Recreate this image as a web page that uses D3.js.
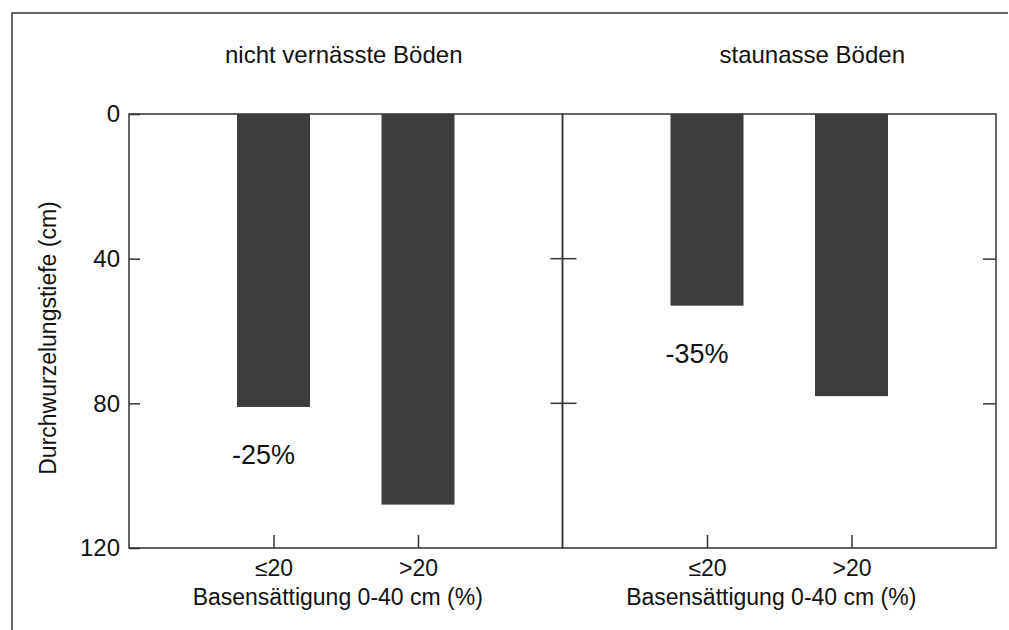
<!DOCTYPE html>
<html>
<head>
<meta charset="utf-8">
<script src="https://cdn.jsdelivr.net/npm/d3@7"></script>
<style>
  body { margin: 0; background: #fff; }
  svg { display: block; font-family: Arial, "Liberation Sans", sans-serif; }
  .axis path { display: none; }
  .axis line { stroke: #333; stroke-width: 1.5; }
  .axis text { fill: #111; font-size: 24px; font-family: Arial, "Liberation Sans", sans-serif; }
  .axis.x text { font-size: 23px; }
</style>
</head>
<body>
<div id="chart"></div>
<script>
let width = 1009,
    height = 630,
    margin = ({ top: 114, right: 13, bottom: 82, left: 129 });

// data
const panels = ["nicht vernässte Böden", "staunasse Böden"];
const groups = ["≤20", ">20"];
const depth = [[81, 108], [53, 78]];        // Durchwurzelungstiefe (cm)
const changeLabels = ["-25%", "-35%"];
const yTicks = [0, 40, 80, 120];
const xTitle = "Basensättigung 0-40 cm (%)";
const yTitle = "Durchwurzelungstiefe (cm)";

const svg = d3.select("#chart")
  .append("svg")
  .attr("width", width)
  .attr("height", height);

let x0 = d3.scaleBand()
  .domain(panels)
  .range([margin.left, width - margin.right]);

let x1 = d3.scalePoint()
  .domain(groups)
  .range([0, x0.bandwidth()])
  .padding(1);

let y = d3.scaleLinear()
  .domain([0, 120])
  .range([margin.top, height - margin.bottom]);

let barW = 73;
let ink = "#333";

// outer frame (top + left only, right/bottom cut off in the scan)
svg.append("path")
  .attr("d", `M12,${height} V13 H${width - 1}`)
  .attr("fill", "none")
  .attr("stroke", ink)
  .attr("stroke-width", 1.5);

panels.forEach((p, i) => {
  let g = svg.append("g")
    .attr("transform", `translate(${x0(p)},0)`);

  // bars
  g.selectAll("rect")
    .data(depth[i])
    .join("rect")
    .attr("x", (d, j) => x1(groups[j]) - barW / 2)
    .attr("y", y(0))
    .attr("width", barW)
    .attr("height", d => y(d) - y(0))
    .attr("fill", "#3d3d3d");

  // panel title
  g.append("text")
    .attr("x", i === 0 ? x0.bandwidth() / 2 - 2 : x0.bandwidth() / 2 + 33)
    .attr("y", 63)
    .attr("text-anchor", "middle")
    .attr("font-size", 24)
    .attr("fill", "#111")
    .text(p);

  // change label below the shallow bar
  g.append("text")
    .attr("x", x1(groups[0]) - 10)
    .attr("y", y(depth[i][0]) + 57)
    .attr("text-anchor", "middle")
    .attr("font-size", 27)
    .attr("fill", "#111")
    .text(changeLabels[i]);

  // bottom axis, ticks pointing up
  g.append("g")
    .attr("class", "axis x")
    .attr("transform", `translate(0,${y(120)})`)
    .call(d3.axisBottom(x1)
      .tickSizeInner(-13)
      .tickSizeOuter(0)
      .tickPadding(12));

  g.append("text")
    .attr("x", x0.bandwidth() / 2 - 8)
    .attr("y", 605)
    .attr("text-anchor", "middle")
    .attr("font-size", 23)
    .attr("fill", "#111")
    .text(xTitle);

  // panel box
  g.append("rect")
    .attr("x", 0)
    .attr("y", y(0))
    .attr("width", x0.bandwidth())
    .attr("height", y(120) - y(0))
    .attr("fill", "none")
    .attr("stroke", ink)
    .attr("stroke-width", 1.5);
});

// left y axis, ticks inward
svg.append("g")
  .attr("class", "axis")
  .attr("transform", `translate(${margin.left},0)`)
  .call(d3.axisLeft(y)
    .tickValues(yTicks)
    .tickSizeInner(-11)
    .tickSizeOuter(0)
    .tickPadding(9));

// ticks on the divider (both sides)
let divX = x0(panels[1]);
svg.append("g")
  .selectAll("line")
  .data(yTicks.slice(1, 3))
  .join("line")
  .attr("x1", divX - 12)
  .attr("x2", divX + 14)
  .attr("y1", d => y(d))
  .attr("y2", d => y(d))
  .attr("stroke", ink)
  .attr("stroke-width", 1.5);

// ticks on the right edge, inward
svg.append("g")
  .attr("class", "axis")
  .attr("transform", `translate(${width - margin.right},0)`)
  .call(d3.axisLeft(y)
    .tickValues(yTicks.slice(1, 3))
    .tickSizeInner(13)
    .tickSizeOuter(0)
    .tickFormat(""));

// y title
svg.append("text")
  .attr("transform", `translate(56,${(y(0) + y(120)) / 2 + 7}) rotate(-90)`)
  .attr("text-anchor", "middle")
  .attr("font-size", 23)
  .attr("fill", "#111")
  .text(yTitle);
</script>
</body>
</html>
